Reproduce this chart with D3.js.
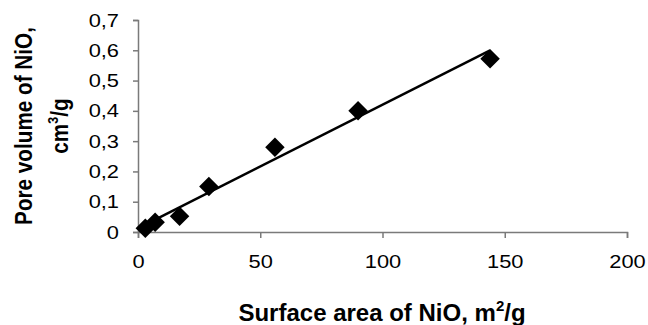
<!DOCTYPE html>
<html>
<head>
<meta charset="utf-8">
<script src="https://cdn.jsdelivr.net/npm/d3@7"></script>
<style>
  body { margin: 0; background: #fff; }
  text { font-family: "Liberation Sans", Arial, sans-serif; fill: #000; }
</style>
</head>
<body>
<div id="chart"></div>
<script>
// Surface area of NiO (m2/g) vs pore volume (cm3/g)
const surfaceArea = [3, 7, 17, 29, 56, 90, 144];
const poreVolume = [0.012, 0.032, 0.052, 0.15, 0.28, 0.40, 0.572];
const xTicks = [0, 50, 100, 150, 200];
const yTicks = [0, 0.1, 0.2, 0.3, 0.4, 0.5, 0.6, 0.7];

const width = 648, height = 325;
const margin = { top: 20, right: 21, bottom: 93, left: 138 };
const stretch = 1.15; // the original glyphs are a bit wider than they are tall

const svg = d3.select("#chart")
    .append("svg")
    .attr("width", width)
    .attr("height", height);

const xScale = d3.scaleLinear().domain([0, 200]).range([margin.left, width - margin.right]);
const yScale = d3.scaleLinear().domain([0, 0.7]).range([height - margin.bottom, margin.top]);

const fmt = d => d3.format(".1f")(d).replace(".", ",").replace(/^0,0$/, "0");

// Axes
const xAxis = svg.append("g")
    .attr("transform", `translate(0,${yScale(0)})`)
    .call(d3.axisBottom(xScale).tickValues(xTicks).tickSize(6).tickPadding(17).tickFormat(d3.format("d")));

const yAxis = svg.append("g")
    .attr("transform", `translate(${xScale(0)},0)`)
    .call(d3.axisLeft(yScale).tickValues(yTicks).tickSize(5).tickPadding(14).tickFormat(fmt));

[xAxis, yAxis].forEach(ax => {
    ax.selectAll("path, line").attr("stroke", "#7a7a7a").attr("stroke-width", 1.5);
    ax.selectAll("text")
        .attr("font-size", 19)
        .style("font-family", "Liberation Sans, Arial, sans-serif")
        .attr("fill", "#111")
        .attr("x", function () { return (+d3.select(this).attr("x") || 0) / stretch; })
        .attr("transform", `scale(${stretch},1)`);
});

// Linear trendline (least squares)
const n = surfaceArea.length;
const mx = d3.mean(surfaceArea), my = d3.mean(poreVolume);
let sxy = 0, sxx = 0;
for (let i = 0; i < n; i++) {
    sxy += (surfaceArea[i] - mx) * (poreVolume[i] - my);
    sxx += (surfaceArea[i] - mx) ** 2;
}
const slope = sxy / sxx, intercept = my - slope * mx;
const x0 = d3.min(surfaceArea), x1 = d3.max(surfaceArea);

svg.append("line")
    .attr("x1", xScale(x0))
    .attr("y1", yScale(intercept + slope * x0))
    .attr("x2", xScale(x1))
    .attr("y2", yScale(intercept + slope * x1))
    .attr("stroke", "#000")
    .attr("stroke-width", 2.5);

// Diamond markers
const diamond = d3.symbol().type(d3.symbolSquare).size(190);
svg.selectAll(".pt")
    .data(surfaceArea.map((x, i) => ({ x, y: poreVolume[i] })))
    .enter()
    .append("path")
    .attr("class", "pt")
    .attr("d", diamond)
    .attr("transform", d => `translate(${xScale(d.x)},${yScale(d.y)}) rotate(45)`)
    .attr("fill", "#000");

// Axis titles
const xTitle = svg.append("text")
    .attr("x", 382)
    .attr("y", 321)
    .attr("text-anchor", "middle")
    .attr("font-size", 24)
    .attr("font-weight", "bold");
xTitle.append("tspan").text("Surface area of NiO, m");
xTitle.append("tspan").attr("font-size", 15).attr("dy", -10).text("2");
xTitle.append("tspan").attr("dy", 10).text("/g");

const yTitle = svg.append("g")
    .attr("transform", "translate(0,126) rotate(-90) scale(0.9,1)");
yTitle.append("text")
    .attr("x", 0)
    .attr("y", 32)
    .attr("text-anchor", "middle")
    .attr("font-size", 23)
    .attr("font-weight", "bold")
    .text("Pore volume of NiO,");
const yt2 = yTitle.append("text")
    .attr("x", 0)
    .attr("y", 68)
    .attr("text-anchor", "middle")
    .attr("font-size", 23)
    .attr("font-weight", "bold");
yt2.append("tspan").text("cm");
yt2.append("tspan").attr("font-size", 14).attr("dy", -10).text("3");
yt2.append("tspan").attr("dy", 10).text("/g");
</script>
</body>
</html>
